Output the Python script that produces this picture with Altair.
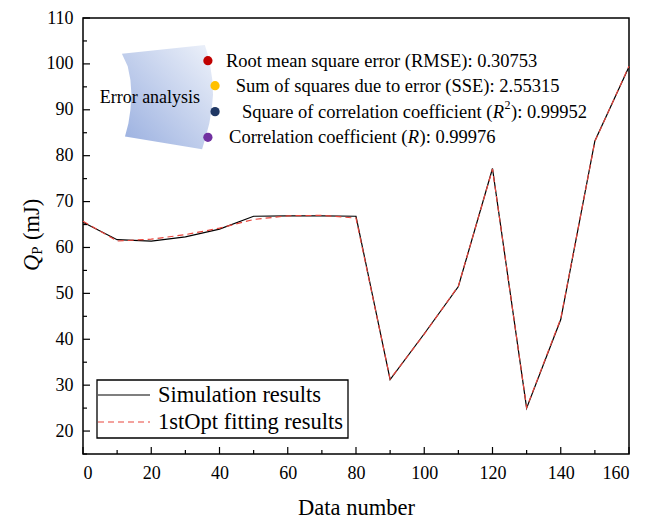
import altair as alt
import pandas as pd

# ---------------- data ----------------
data_number = [0, 10, 20, 30, 40, 50, 60, 70, 80, 90, 100, 110, 120, 130, 140, 150, 160]
simulation = [65.5, 61.7, 61.4, 62.3, 64.0, 66.8, 66.9, 66.9, 66.8, 31.2, 41.2, 51.5, 77.2, 25.0, 44.3, 83.2, 99.4]
fitting = [65.7, 61.4, 61.8, 62.8, 64.2, 66.1, 66.9, 67.0, 66.4, 31.3, 41.1, 51.6, 77.1, 25.1, 44.5, 83.1, 99.5]
series_names = ["Simulation results", "1stOpt fitting results"]

x_major = [0, 20, 40, 60, 80, 100, 120, 140, 160]
x_minor = [10, 30, 50, 70, 90, 110, 130, 150]
y_major = [20, 30, 40, 50, 60, 70, 80, 90, 100, 110]
y_minor = [15, 25, 35, 45, 55, 65, 75, 85, 95, 105]

# error-analysis panel (data coordinates)
panel_y = [81.4, 84.2, 87.0, 90.0, 93.3, 96.5, 99.5, 102.2, 104.1]
panel_left = [34.9, 12.3, 13.3, 13.9, 14.2, 13.9, 13.1, 11.4, 35.7]
panel_right = [34.9, 36.0, 37.0, 37.7, 38.1, 37.9, 37.3, 36.5, 35.7]
dot_x = [36.6, 38.7, 38.7, 36.6]
dot_y = [100.7, 95.25, 89.6, 84.0]
dot_colors = ["#c00000", "#ffc000", "#203864", "#7030a0"]
text_x = [41.9, 44.75, 46.6, 42.8]
metric_values = ["0.30753", "2.55315", "0.99952", "0.99976"]

FONT = "Liberation Serif"
W, H = 546, 436

xscale = alt.Scale(domain=[0, 160], nice=False, zero=False)
yscale = alt.Scale(domain=[15, 110], nice=False, zero=False)
xaxis = alt.Axis(values=x_major, ticks=False, domain=False, grid=False,
                 labelFont=FONT, labelFontSize=18, labelColor="black", labelPadding=10,
                 title="Data number", titleFont=FONT, titleFontSize=22.5,
                 titleFontWeight="normal", titleColor="black", titleY=42)
yaxis = alt.Axis(values=y_major, ticks=False, domain=False, grid=False,
                 labelFont=FONT, labelFontSize=18, labelColor="black", labelPadding=10,
                 title=None)


def X(f):
    return alt.X(f"{f}:Q", scale=xscale, axis=xaxis)


def Y(f):
    return alt.Y(f"{f}:Q", scale=yscale, axis=yaxis)


lines_df = pd.DataFrame({"x": data_number, "sim": simulation, "fit": fitting})

sim_line = alt.Chart(lines_df).mark_line(color="black", strokeWidth=1.2).encode(x=X("x"), y=Y("sim"))
fit_line = alt.Chart(lines_df).mark_line(color="#e8453c", strokeWidth=1.2, strokeDash=[6, 4]).encode(
    x=X("x"), y=Y("fit"))

# inward ticks
xmaj = alt.Chart(pd.DataFrame({"x": x_major})).mark_rule(color="black", strokeWidth=1.2).encode(
    x=X("x"), y=alt.value(H), y2=alt.value(H - 7))
xmin = alt.Chart(pd.DataFrame({"x": x_minor})).mark_rule(color="black", strokeWidth=1.2).encode(
    x=X("x"), y=alt.value(H), y2=alt.value(H - 4))
ymaj = alt.Chart(pd.DataFrame({"y": y_major})).mark_rule(color="black", strokeWidth=1.2).encode(
    y=Y("y"), x=alt.value(0), x2=alt.value(7))
ymin = alt.Chart(pd.DataFrame({"y": y_minor})).mark_rule(color="black", strokeWidth=1.2).encode(
    y=Y("y"), x=alt.value(0), x2=alt.value(4))

# panel
grad = alt.LinearGradient(
    gradient="linear",
    stops=[alt.GradientStop(color="#98aedf", offset=0), alt.GradientStop(color="#eef2fa", offset=1)],
    x1=0, y1=1, x2=1, y2=0)
panel = alt.Chart(pd.DataFrame({"y": panel_y, "xl": panel_left, "xr": panel_right})).mark_area(
    orient="horizontal", color=grad, opacity=1).encode(y=Y("y"), x=X("xl"), x2=alt.X2("xr"))

panel_label = alt.Chart(pd.DataFrame({"x": [19.6], "y": [92.5], "t": ["Error analysis"]})).mark_text(
    align="center", baseline="middle", font=FONT, fontSize=18, color="black").encode(
    x=X("x"), y=Y("y"), text="t:N")

dots = alt.Chart(pd.DataFrame({"x": dot_x, "y": dot_y, "c": dot_colors})).mark_circle(
    size=85, opacity=1).encode(x=X("x"), y=Y("y"), color=alt.Color("c:N", scale=None))


def seg(xv, yv, text, dx=0, dy=0, size=18.5, style="normal"):
    df = pd.DataFrame({"x": [xv], "y": [yv], "t": [text]})
    return alt.Chart(df).mark_text(align="left", baseline="middle", dx=dx, dy=dy, fontSize=size,
                                   fontStyle=style, font=FONT, color="black").encode(
        x=X("x"), y=Y("y"), text="t:N")


ann = [
    seg(text_x[0], dot_y[0], f"Root mean square error (RMSE): {metric_values[0]}"),
    seg(text_x[1], dot_y[1], f"Sum of squares due to error (SSE): {metric_values[1]}"),
    seg(text_x[2], dot_y[2], "Square of correlation coefficient ("),
    seg(text_x[2], dot_y[2], "R", dx=250.7, style="italic"),
    seg(text_x[2], dot_y[2], "2", dx=262.5, dy=-7, size=12),
    seg(text_x[2], dot_y[2], f"): {metric_values[2]}", dx=269),
    seg(text_x[3], dot_y[3], "Correlation coefficient ("),
    seg(text_x[3], dot_y[3], "R", dx=178.8, style="italic"),
    seg(text_x[3], dot_y[3], f"): {metric_values[3]}", dx=190.5),
]


def pseg(px, py, text, dx=0, dy=0, size=22.5, style="normal", angle=0):
    df = pd.DataFrame({"t": [text]})
    return alt.Chart(df).mark_text(align="left", baseline="middle", dx=dx, dy=dy, fontSize=size,
                                   fontStyle=style, font=FONT, color="black", angle=angle).encode(
        x=alt.value(px), y=alt.value(py), text="t:N")


# y title
ytitle = [
    pseg(-51, 253, "Q", style="italic", angle=270),
    pseg(-51, 253, "P", dx=16.2, dy=5, size=15, angle=270),
    pseg(-51, 253, "(mJ)", dx=31, angle=270),
]

# legend
leg_box = alt.Chart(pd.DataFrame({"a": [0]})).mark_rect(fill="white", stroke="black", strokeWidth=1.3).encode(
    x=alt.value(14), x2=alt.value(265), y=alt.value(362), y2=alt.value(420))
leg_sim = alt.Chart(pd.DataFrame({"a": [0]})).mark_rule(color="black", strokeWidth=1.2).encode(
    x=alt.value(15), x2=alt.value(67), y=alt.value(377))
leg_fit = alt.Chart(pd.DataFrame({"a": [0]})).mark_rule(color="#e8453c", strokeWidth=1.2, strokeDash=[6, 4]).encode(
    x=alt.value(15), x2=alt.value(67), y=alt.value(404))
leg_t1 = pseg(75, 377, series_names[0])
leg_t2 = pseg(75, 404, series_names[1])

chart = alt.layer(
    panel, sim_line, fit_line, xmaj, xmin, ymaj, ymin, dots, panel_label, *ann, *ytitle,
    leg_box, leg_sim, leg_fit, leg_t1, leg_t2
).properties(
    width=W, height=H,
    padding={"left": 75, "top": 10, "right": 13, "bottom": 65},
    autosize=alt.AutoSizeParams(type="none"),
    background="white",
).configure_view(stroke="black", strokeWidth=1.5)

chart.save("out.html", embed_options={"renderer": "svg", "actions": False})
